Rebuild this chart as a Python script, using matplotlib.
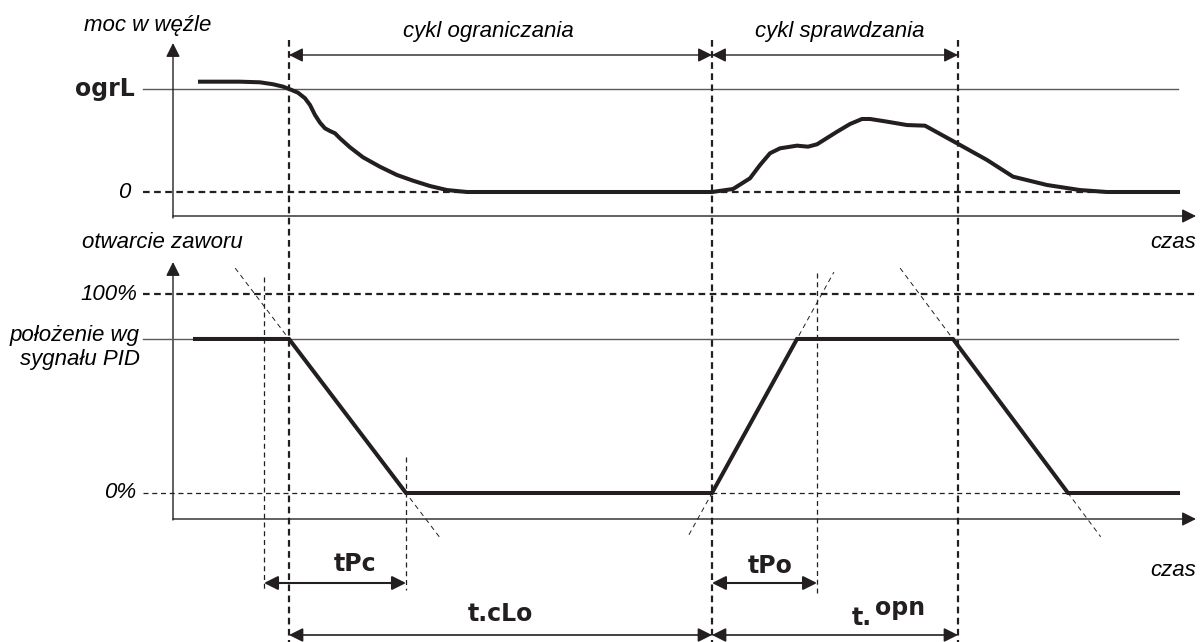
import matplotlib.pyplot as plt
import numpy as np

# ---------------------------------------------------------------
# Dane (czas w jednostkach rysunku, moc: 0 = brak, 1 = ogrL,
# otwarcie zaworu w %)
# ---------------------------------------------------------------
t_moc = [200, 240, 260, 273, 283, 290, 298, 305, 310, 315, 320, 325, 330, 335,
         340, 350, 363, 380, 397, 413, 430, 447, 467, 712, 733, 750, 760, 770,
         780, 797, 808, 817, 837, 850, 862, 870, 887, 907, 925, 957, 987, 1013,
         1047, 1080, 1107, 1178]
moc = [1.071, 1.071, 1.065, 1.046, 1.023, 0.997, 0.964, 0.910, 0.845, 0.748,
       0.673, 0.618, 0.592, 0.570, 0.521, 0.434, 0.337, 0.245, 0.165, 0.110,
       0.058, 0.019, 0.0, 0.0, 0.029, 0.133, 0.262, 0.376, 0.424, 0.450,
       0.440, 0.463, 0.585, 0.660, 0.709, 0.709, 0.683, 0.650, 0.644, 0.473,
       0.311, 0.149, 0.068, 0.019, 0.0, 0.0]

t_zawor = [195, 289, 406, 712, 797, 953, 1068, 1178]
zawor = [77.4, 77.4, 0, 0, 77.4, 77.4, 0, 0]
poziom_pid = 77.4

# momenty charakterystyczne
t_tpc = 264      # poczatek odcinka tPc
t_ogr = 289      # poczatek cyklu ograniczania
t_zamk = 406     # zawor zamkniety
t_spr = 712      # poczatek cyklu sprawdzania
t_tpo = 817      # koniec odcinka tPo
t_kon = 958      # koniec cyklu sprawdzania

# przedluzenia ramp (linie pomocnicze), zakresy w %
rampy = [(1, 2, 113, -22), (3, 4, -21, 111), (5, 6, 113, -22)]

CZARNY = '#231f20'
SZARY = '#5a5a5a'
W, H = 1200, 642

fig = plt.figure(figsize=(12, 6.42), dpi=100)
fig.patch.set_facecolor('white')

# warstwa opisow w pikselach
ax = fig.add_axes([0, 0, 1, 1])
ax.set_xlim(0, W)
ax.set_ylim(H, 0)
ax.axis('off')

# osie danych nalozone na caly rysunek
ax_m = fig.add_axes([0, 0, 1, 1])
ax_m.set_xlim(0, W)
ax_m.set_ylim((192 - H) / 103, 192 / 103)
ax_m.axis('off')
ax_m.patch.set_alpha(0)

ax_z = fig.add_axes([0, 0, 1, 1])
ax_z.set_xlim(0, W)
ax_z.set_ylim((493 - H) / 1.99, 493 / 1.99)
ax_z.axis('off')
ax_z.patch.set_alpha(0)

font = {'family': 'Liberation Sans', 'style': 'italic', 'size': 16}
seg = {'family': 'DejaVu Sans', 'weight': 'bold', 'size': 17, 'color': CZARNY}

def strzalka(x0, y0, x1, y1, styl='-|>', kolor=SZARY, lw=1.0):
    ax.annotate('', xy=(x1, y1), xytext=(x0, y0),
                arrowprops=dict(arrowstyle=styl + ',head_length=0.6,head_width=0.3',
                                mutation_scale=14, color=kolor, lw=lw,
                                shrinkA=0, shrinkB=0, fc=CZARNY, ec=CZARNY))

# ----- panel gorny: moc w wezle -----
ax.plot([143, 1178], [89, 89], color=SZARY, lw=1.0)
ax_m.plot([143, 1178], [0, 0], color=CZARNY, lw=1.6, ls=(0, (3, 2)))
ax_m.plot(t_moc, moc, color=CZARNY, lw=2.9, solid_joinstyle='round')
strzalka(173, 218, 173, 43)
strzalka(173, 216, 1196, 216)

ax.text(148, 25, 'moc w węźle', ha='center', va='center', **font)
ax.text(135, 89, 'ogrL', ha='right', va='center', **seg)
ax.text(130, 192, '0', ha='right', va='center', **font)
ax.text(1196, 242, 'czas', ha='right', va='center', **font)

# ----- panel dolny: otwarcie zaworu -----
ax_z.plot([143, 1198], [100, 100], color=CZARNY, lw=1.6, ls=(0, (3, 2)))
ax_z.plot([143, 1178], [poziom_pid, poziom_pid], color=SZARY, lw=1.0)
ax_z.plot([143, 1178], [0, 0], color=CZARNY, lw=0.9, ls=(0, (4, 3)))
for i0, i1, v_a, v_b in rampy:
    t0, t1 = t_zawor[i0], t_zawor[i1]
    v0, v1 = zawor[i0], zawor[i1]
    k = (t1 - t0) / (v1 - v0)
    ax_z.plot([t0 + (v_a - v0) * k, t0 + (v_b - v0) * k], [v_a, v_b],
              color=CZARNY, lw=0.7, ls=(0, (5, 4)))
ax_z.plot(t_zawor, zawor, color=CZARNY, lw=2.9, solid_joinstyle='miter')
strzalka(173, 520, 173, 262)
strzalka(173, 519, 1196, 519)

ax.text(162, 243, 'otwarcie zaworu', ha='center', va='center', **font)
ax.text(137, 294, '100%', ha='right', va='center', **font)
ax.text(140, 336, 'położenie wg', ha='right', va='center', **font)
ax.text(140, 360, 'sygnału PID', ha='right', va='center', **font)
ax.text(136, 493, '0%', ha='right', va='center', **font)
ax.text(1196, 570, 'czas', ha='right', va='center', **font)

# ----- linie pionowe -----
for t in [t_ogr, t_spr, t_kon]:
    ax.plot([t, t], [40, H], color=CZARNY, lw=1.6, ls=(0, (3, 2)))
ax.plot([t_tpc, t_tpc], [277, 590], color=CZARNY, lw=0.9, ls=(0, (4, 3)))
ax.plot([t_zamk, t_zamk], [457, 590], color=CZARNY, lw=0.9, ls=(0, (4, 3)))
ax.plot([t_tpo, t_tpo], [273, 595], color=CZARNY, lw=0.9, ls=(0, (4, 3)))

# ----- cykle -----
strzalka(t_ogr, 55, t_spr, 55, '<|-|>', kolor=SZARY)
strzalka(t_spr, 55, t_kon, 55, '<|-|>', kolor=SZARY)
ax.text(488, 32, 'cykl ograniczania', ha='center', va='center', **font)
ax.text(840, 32, 'cykl sprawdzania', ha='center', va='center', **font)

# ----- odcinki czasowe -----
strzalka(t_tpc, 583, t_zamk, 583, '<|-|>', kolor='#808080', lw=1.5)
strzalka(t_spr, 583, t_tpo, 583, '<|-|>', kolor='#808080', lw=1.5)
strzalka(t_ogr, 635, t_spr, 635, '<|-|>', kolor=CZARNY, lw=1.2)
strzalka(t_spr, 635, t_kon, 635, '<|-|>', kolor=CZARNY, lw=1.2)

ax.text(355, 564, 'tPc', ha='center', va='center', **seg)
ax.text(770, 566, 'tPo', ha='center', va='center', **seg)
ax.text(500, 614, 't.cLo', ha='center', va='center', **seg)
ax.text(862, 618, 't.', ha='center', va='center', **seg)
ax.text(900, 608, 'opn', ha='center', va='center', **seg)

plt.savefig('out.png', dpi=100, facecolor='white')
